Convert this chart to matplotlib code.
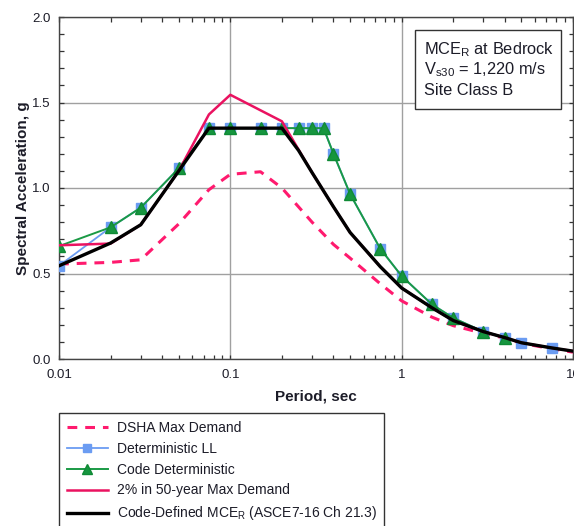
import matplotlib
matplotlib.use("Agg")
import matplotlib.pyplot as plt
from matplotlib.patches import Rectangle
from matplotlib.ticker import MultipleLocator, LogLocator, NullFormatter, FixedLocator, FixedFormatter

plt.rcParams['font.family'] = ['Liberation Sans', 'DejaVu Sans']
plt.rcParams['mathtext.default'] = 'regular'

# ---- data ----
periods_std = [0.01, 0.02, 0.03, 0.05, 0.075, 0.1, 0.15, 0.2, 0.25, 0.3, 0.4, 0.5,
               0.75, 1.0, 1.5, 2.0, 3.0, 4.0, 5.0, 7.5, 10.0]
dsha = [0.555, 0.565, 0.58, 0.79, 0.99, 1.08, 1.095, 1.0, 0.89, 0.80, 0.67, 0.59,
        0.44, 0.34, 0.245, 0.195, 0.15, 0.122, 0.092, 0.06, 0.04]

periods_ll = [0.01, 0.02, 0.03, 0.05, 0.075, 0.1, 0.15, 0.2, 0.25, 0.3, 0.35, 0.4, 0.5,
              0.75, 1.0, 1.5, 2.0, 3.0, 4.0, 5.0, 7.5]
det_ll = [0.545, 0.77, 0.885, 1.115, 1.35, 1.35, 1.35, 1.35, 1.35, 1.35, 1.35, 1.20, 0.965,
          0.645, 0.485, 0.32, 0.24, 0.16, 0.125, 0.095, 0.065]

periods_code = [0.01, 0.02, 0.03, 0.05, 0.075, 0.1, 0.15, 0.2, 0.25, 0.3, 0.35, 0.4, 0.5,
                0.75, 1.0, 1.5, 2.0, 3.0, 4.0]
code_det = [0.66, 0.77, 0.885, 1.115, 1.35, 1.35, 1.35, 1.35, 1.35, 1.35, 1.35, 1.20, 0.965,
            0.645, 0.485, 0.32, 0.24, 0.16, 0.125]

periods_prob = [0.01, 0.02, 0.03, 0.05, 0.075, 0.1, 0.2, 0.25, 0.3, 0.4, 0.5,
                0.75, 1.0, 1.5, 2.0, 3.0, 4.0, 5.0, 7.5, 10.0]
prob_2in50 = [0.665, 0.675, 0.785, 1.10, 1.43, 1.545, 1.39, 1.225, 1.09, 0.89, 0.74,
              0.54, 0.415, 0.30, 0.225, 0.16, 0.125, 0.095, 0.065, 0.046]

mce_r = [0.545, 0.678, 0.785, 1.10, 1.35, 1.35, 1.35, 1.35, 1.22, 1.09, 0.89, 0.74,
         0.54, 0.415, 0.30, 0.225, 0.16, 0.125, 0.095, 0.065, 0.046]

labels = ["DSHA Max Demand", "Deterministic LL", "Code Deterministic",
          "2% in 50-year Max Demand", "Code-Defined MCE$_R$ (ASCE7-16 Ch 21.3)"]

xticks = [0.01, 0.1, 1, 10]
xticklabels = ["0.01", "0.1", "1", "10"]

W, H = 574, 526
fig = plt.figure(figsize=(W / 100, H / 100), dpi=100)
ax = fig.add_axes([59 / W, (H - 359) / H, 514 / W, 342 / H])

txtc = '#1c1c28'
ax.plot(periods_std, dsha, color='#ff1a6e', lw=2.2, ls=(0, (3.2, 2.6)), label=labels[0], zorder=3)
ax.plot(periods_ll, det_ll, color='#6b9cf2', lw=1.3, marker='s', ms=6.5, mec='#6b9cf2',
        label=labels[1], zorder=4)
ax.plot(periods_code, code_det, color='#1a9a45', lw=1.4, marker='^', ms=8.5, mec='#0f8a35',
        mfc='#16963f', label=labels[2], zorder=5)
ax.plot(periods_prob, prob_2in50, color='#ea1260', lw=1.8, label=labels[3], zorder=6)
ax.plot(periods_std, mce_r, color='#000000', lw=2.4, label=labels[4], zorder=7)

ax.set_xscale('log')
ax.set_xlim(0.01, 10)
ax.set_ylim(0, 2.0)
ax.xaxis.set_major_locator(FixedLocator(xticks))
ax.xaxis.set_major_formatter(FixedFormatter(xticklabels))
ax.xaxis.set_minor_locator(LogLocator(base=10, subs=range(2, 10)))
ax.xaxis.set_minor_formatter(NullFormatter())
ax.yaxis.set_major_locator(MultipleLocator(0.5))
ax.yaxis.set_minor_locator(MultipleLocator(0.1))
ax.yaxis.set_major_formatter(plt.FuncFormatter(lambda v, p: f"{v:.1f}"))

ax.tick_params(which='both', direction='in', top=True, right=True, length=4.5 * 0.72,
               width=0.9, color='#333333', labelsize=9.5, labelcolor=txtc, pad=7)
ax.tick_params(axis='y', pad=6)
ax.grid(True, which='major', color='#a0a0a0', lw=1.0)
for s in ax.spines.values():
    s.set_color('#444444')
    s.set_linewidth(1.0)

ax.set_xlabel("Period, sec", fontsize=11, fontweight='bold', color=txtc, labelpad=6)
ax.set_ylabel("Spectral Acceleration, g", fontsize=11, fontweight='bold', color=txtc)
ax.yaxis.set_label_coords(-(59 - 30) / 514, 0.5)

# info box
fig.patches.append(Rectangle((415 / W, 1 - 109 / H), 146 / W, 79 / H, transform=fig.transFigure,
                             fc='white', ec='#333333', lw=1.0, zorder=10))
for txt, base in [("MCE$_R$ at Bedrock", 54), ("V$_{s30}$ = 1,220 m/s", 74.5), ("Site Class B", 95)]:
    fig.text(424 / W, 1 - base / H, txt, fontsize=11.8, color=txtc, ha='left', va='baseline', zorder=11)

leg = fig.legend(loc='upper left', bbox_to_anchor=(59 / W, 1 - 413 / H), fontsize=10,
                 frameon=True, fancybox=False, edgecolor='#333333', framealpha=1,
                 handlelength=3.0, handletextpad=0.6, labelspacing=0.5, borderpad=0.55,
                 borderaxespad=0, markerscale=0.8)
leg.get_frame().set_linewidth(1.0)
for t in leg.get_texts():
    t.set_color(txtc)

fig.savefig("out.png", dpi=100)
